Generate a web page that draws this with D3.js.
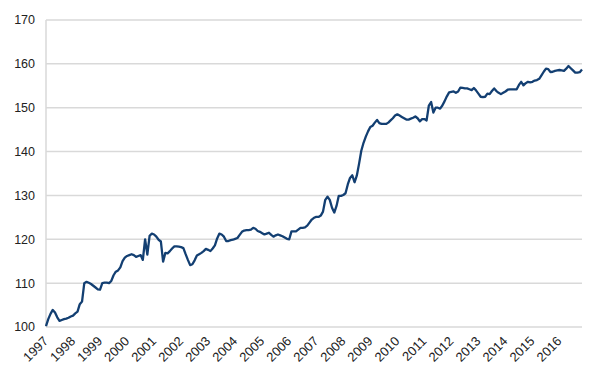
<!DOCTYPE html>
<html>
<head>
<meta charset="utf-8">
<script src="https://cdn.jsdelivr.net/npm/d3@7"></script>
<style>
  html, body { margin: 0; padding: 0; background: #fff; }
  svg { display: block; }
  text { font-family: "Liberation Sans", Arial, sans-serif; fill: #222; }
</style>
</head>
<body>
<svg id="chart" width="600" height="381"></svg>
<script>
// Monthly index values, Jan 1997 – Nov 2016
const v1997 = [100.2, 101.8, 103.0, 103.9, 103.3, 102.2, 101.4, 101.6, 101.8, 101.9, 102.1, 102.4];
const v1998 = [102.6, 103.1, 103.5, 105.2, 105.8, 110.0, 110.3, 110.1, 109.8, 109.4, 109.0, 108.6];
const v1999 = [108.5, 110.0, 110.1, 110.1, 110.0, 110.5, 111.8, 112.6, 112.9, 113.6, 115.0, 115.8];
const v2000 = [116.2, 116.4, 116.6, 116.4, 116.0, 116.2, 116.4, 115.3, 120.0, 116.5, 120.8, 121.3];
const v2001 = [121.1, 120.6, 119.9, 119.5, 114.9, 116.9, 116.8, 117.3, 117.9, 118.4, 118.4, 118.3];
const v2002 = [118.2, 118.0, 116.6, 115.3, 114.1, 114.3, 115.2, 116.3, 116.6, 116.9, 117.3, 117.8];
const v2003 = [117.6, 117.3, 117.9, 118.6, 120.2, 121.3, 121.1, 120.6, 119.6, 119.6, 119.8, 119.9];
const v2004 = [120.1, 120.3, 121.0, 121.7, 122.0, 122.1, 122.1, 122.2, 122.6, 122.4, 121.9, 121.7];
const v2005 = [121.4, 121.1, 121.3, 121.5, 121.0, 120.6, 120.9, 121.1, 120.9, 120.7, 120.4, 120.1];
const v2006 = [120.0, 121.8, 121.8, 121.8, 122.2, 122.6, 122.6, 122.7, 123.1, 123.8, 124.5, 124.9];
const v2007 = [125.1, 125.1, 125.4, 126.3, 129.0, 129.7, 129.0, 127.2, 126.1, 127.6, 129.9, 129.9];
const v2008 = [130.1, 130.5, 132.5, 134.0, 134.6, 133.0, 134.5, 137.2, 140.2, 142.0, 143.4, 144.6];
const v2009 = [145.6, 145.9, 146.6, 147.2, 146.5, 146.3, 146.3, 146.3, 146.6, 147.1, 147.6, 148.2];
const v2010 = [148.5, 148.2, 147.9, 147.6, 147.3, 147.3, 147.5, 147.7, 148.0, 147.6, 146.9, 147.4];
const v2011 = [147.4, 147.1, 150.5, 151.3, 148.9, 150.0, 150.0, 149.8, 150.5, 151.5, 152.6, 153.5];
const v2012 = [153.6, 153.7, 153.4, 153.7, 154.6, 154.5, 154.4, 154.4, 154.2, 154.0, 154.5, 153.9];
const v2013 = [153.2, 152.5, 152.4, 152.5, 153.2, 153.1, 153.8, 154.4, 153.8, 153.4, 153.1, 153.4];
const v2014 = [153.7, 154.1, 154.2, 154.2, 154.2, 154.2, 155.2, 155.9, 155.1, 155.6, 155.9, 155.8];
const v2015 = [155.9, 156.2, 156.3, 156.6, 157.4, 158.2, 158.9, 158.8, 158.1, 158.2, 158.4, 158.5];
const v2016 = [158.6, 158.5, 158.4, 158.9, 159.5, 159.0, 158.5, 158.0, 158.0, 158.1, 158.7];

const yearLabels = ["1997","1998","1999","2000","2001","2002","2003","2004","2005","2006",
                    "2007","2008","2009","2010","2011","2012","2013","2014","2015","2016"];
const yTicks = [100, 110, 120, 130, 140, 150, 160, 170];

const values = [].concat(v1997, v1998, v1999, v2000, v2001, v2002, v2003, v2004, v2005, v2006,
                         v2007, v2008, v2009, v2010, v2011, v2012, v2013, v2014, v2015, v2016);

const svg = d3.select("#chart");
const plotLeft = 46, plotRight = 582, plotTop = 20, plotBottom = 327;

const x = d3.scaleLinear().domain([0, values.length - 1]).range([plotLeft, plotRight]);
const y = d3.scaleLinear().domain([100, 170]).range([plotBottom, plotTop]);

// gridlines
svg.append("g").selectAll("line").data(yTicks).join("line")
  .attr("x1", plotLeft).attr("x2", plotRight)
  .attr("y1", d => y(d)).attr("y2", d => y(d))
  .attr("stroke", "#d9d9d9").attr("stroke-width", 1.5);

// left axis line
svg.append("line").attr("x1", plotLeft).attr("x2", plotLeft).attr("y1", y(170)).attr("y2", y(100))
  .attr("stroke", "#d9d9d9").attr("stroke-width", 1.5);

// y labels
svg.append("g").selectAll("text").data(yTicks).join("text")
  .attr("x", 35).attr("y", d => y(d)).attr("dy", "0.35em")
  .attr("text-anchor", "end").attr("font-size", 12.5)
  .text(d => d);

// x labels
svg.append("g").selectAll("text").data(yearLabels).join("text")
  .attr("transform", (d, i) => `translate(${x(i * 12) + 3},${plotBottom + 15}) rotate(-45)`)
  .attr("text-anchor", "end").attr("font-size", 13)
  .text(d => d);

// line
const line = d3.line().x((d, i) => x(i)).y(d => y(d));
svg.append("path").datum(values)
  .attr("d", line)
  .attr("fill", "none")
  .attr("stroke", "#133f72")
  .attr("stroke-width", 2.3)
  .attr("stroke-linejoin", "round");
</script>
</body>
</html>
